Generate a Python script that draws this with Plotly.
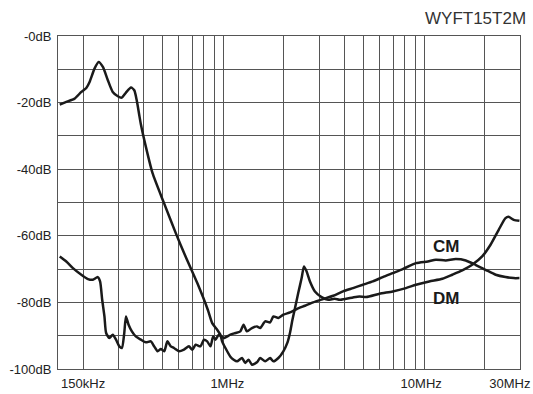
import plotly.graph_objects as go

# ---- data (frequency in MHz, attenuation in dB) ----
dm_freq = [0.153, 0.165, 0.1815, 0.196, 0.2075, 0.2155, 0.228, 0.239, 0.251, 0.2657, 0.281, 0.298,
           0.3115, 0.327, 0.3464, 0.3597, 0.37, 0.381, 0.388, 0.411, 0.4436, 0.506, 0.579, 0.6486,
           0.741, 0.836, 0.879, 0.931, 0.966, 0.985, 1.023, 1.083, 1.125, 1.169, 1.238, 1.285,
           1.334, 1.387, 1.469, 1.525, 1.614, 1.709, 1.774, 1.878, 1.988, 2.083, 2.146, 2.207,
           2.273, 2.358, 2.452, 2.518, 2.597, 2.698, 2.856, 3.083, 3.325, 3.58, 3.79, 4.09, 4.42,
           4.76, 5.14, 5.99, 6.97, 8.11, 9.1, 10.59, 12.32, 13.8, 15.47, 17.34, 19.44, 21.4, 23.5,
           25.4, 26.3, 27.9, 29.8]
dm_db = [-20.6, -19.8, -18.8, -16.8, -15.6, -13.8, -9.8, -7.8, -9.3, -13.3, -16.8, -18.1,
         -18.5, -17.0, -15.5, -16.3, -19.3, -23.8, -26.5, -33.3, -41.2, -50.2, -59.2, -66.3,
         -74.2, -82.2, -86.2, -88.2, -89.7, -91.7, -93.7, -96.3, -97.2, -97.7, -96.7, -98.2,
         -97.2, -98.7, -98.0, -96.7, -97.7, -96.7, -97.7, -96.7, -94.7, -92.1, -89.1, -85.2,
         -81.7, -77.2, -72.7, -69.2, -70.7, -73.7, -76.7, -78.4, -79.2, -78.9, -79.2, -78.9, -78.5,
         -78.2, -78.4, -77.4, -76.7, -75.7, -74.7, -73.7, -72.9, -71.7, -70.4, -68.7, -66.2, -62.7, -58.2,
         -54.7, -54.3, -55.2, -55.5]

cm_freq = [0.153, 0.165, 0.178, 0.196, 0.2115, 0.2236, 0.2366, 0.243, 0.249, 0.2555, 0.2605,
           0.2704, 0.281, 0.2918, 0.303, 0.312, 0.3207, 0.327, 0.337, 0.35, 0.366, 0.3886, 0.411,
           0.435, 0.452, 0.470, 0.488, 0.507, 0.526, 0.547, 0.567, 0.601, 0.636, 0.673, 0.700,
           0.727, 0.769, 0.799, 0.830, 0.862, 0.889, 0.913, 0.948, 1.003, 1.083, 1.147, 1.214,
           1.26, 1.31, 1.387, 1.469, 1.525, 1.614, 1.709, 1.774, 1.878, 1.988, 2.146, 2.318,
           2.547, 2.797, 3.138, 3.525, 3.94, 4.42, 4.95, 5.55, 6.22, 6.97, 7.81, 9.1, 10.43,
           11.43, 12.8, 14.36, 16.1, 18.0, 20.2, 22.7, 25.4, 27.9, 29.8]
cm_db = [-66.2, -67.7, -69.7, -71.7, -73.0, -73.2, -72.4, -73.7, -79.2, -84.2, -89.2,
         -90.7, -89.7, -91.2, -93.2, -93.7, -89.2, -84.2, -86.7, -88.7, -90.2, -91.2, -92.0,
         -91.7, -93.2, -94.7, -94.0, -94.7, -91.7, -93.2, -93.7, -94.7, -94.2, -93.2, -94.2,
         -92.7, -93.2, -91.2, -91.7, -93.2, -90.2, -91.2, -89.7, -90.7, -89.7, -89.2, -88.7,
         -86.7, -88.7, -87.7, -87.2, -87.7, -85.7, -86.0, -84.2, -84.7, -83.7, -83.0, -82.0,
         -81.0, -80.0, -79.0, -78.0, -76.7, -75.7, -74.7, -73.7, -72.4, -71.2, -70.0, -68.2, -67.7,
         -67.2, -67.4, -67.0, -67.4, -68.7, -70.2, -71.7, -72.4, -72.7, -72.7]

x_grid = [0.2, 0.3, 0.4, 0.5, 0.6, 0.7, 0.8, 0.9, 1, 2, 3, 4, 5, 6, 7, 8, 9, 10, 20]
x_tick_labels = ["150kHz", "1MHz", "10MHz", "30MHz"]
x_tick_pos = [0.2, 1.046, 9.66, 26.7]
y_tick_vals = [-100, -80, -60, -40, -20, 0]
y_tick_labels = ["-100dB", "-80dB", "-60dB", "-40dB", "-20dB", "-0dB"]
y_minor = [-90, -70, -50, -30, -10]

GRID = "#555555"
INK = "#1a1a1a"
FONT = "Arial, Liberation Sans, Helvetica, sans-serif"

fig = go.Figure()
for fx, fy in [(dm_freq, dm_db), (cm_freq, cm_db)]:
    fig.add_trace(go.Scatter(x=fx, y=fy, mode="lines",
                             line=dict(color=INK, width=2.5, shape="spline", smoothing=0.6),
                             showlegend=False, hoverinfo="skip"))

fig.update_xaxes(type="log", range=[-0.82391, 1.47712], showgrid=False, automargin=False,
                 tickvals=x_tick_pos, ticktext=x_tick_labels,
                 ticks="outside", ticklen=2, tickcolor="rgba(0,0,0,0)",
                 tickfont=dict(family=FONT, size=13, color="#222"),
                 minor=dict(tickvals=x_grid, showgrid=True, gridcolor=GRID, gridwidth=1, ticks=""),
                 showline=True, mirror=True, linecolor=GRID, linewidth=1, zeroline=False)
fig.update_yaxes(range=[-100, 0], tickvals=y_tick_vals, ticktext=y_tick_labels, automargin=False,
                 showgrid=True, gridcolor=GRID, gridwidth=1,
                 ticks="outside", ticklen=3, tickcolor="rgba(0,0,0,0)",
                 tickfont=dict(family=FONT, size=13, color="#222"),
                 minor=dict(tickvals=y_minor, showgrid=True, gridcolor=GRID, gridwidth=1, ticks=""),
                 showline=True, mirror=True, linecolor=GRID, linewidth=1, zeroline=False)

fig.add_annotation(text="WYFT15T2M", xref="paper", yref="paper", x=1.017, y=1.0, yshift=18,
                   xanchor="right", yanchor="middle", showarrow=False,
                   font=dict(family=FONT, size=17, color="#333"))
fig.add_annotation(text="<b>CM</b>", x=1.1065, y=-63.2, xref="x", yref="y", showarrow=False,
                   font=dict(family=FONT, size=17, color=INK))
fig.add_annotation(text="<b>DM</b>", x=1.1065, y=-78.8, xref="x", yref="y", showarrow=False,
                   font=dict(family=FONT, size=17, color=INK))

fig.update_layout(width=533, height=394, margin=dict(l=58, r=13, t=36, b=25),
                  paper_bgcolor="white", plot_bgcolor="white")
fig.write_html("out.html", config={"displayModeBar": False},
               post_script="document.body.style.margin='0';document.body.style.overflow='hidden';")
